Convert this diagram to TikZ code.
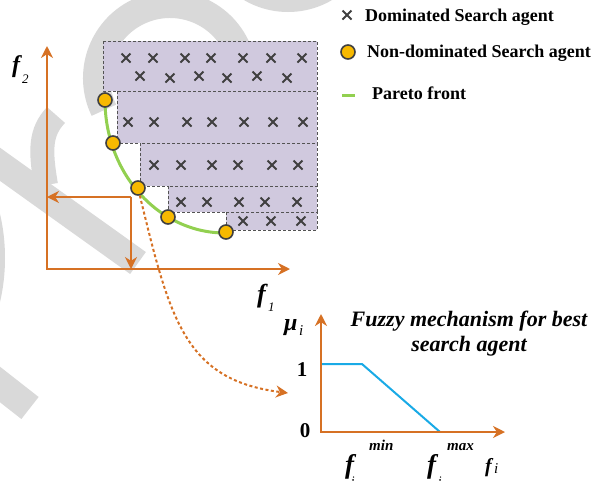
\documentclass[tikz,border=0pt]{standalone}
\usepackage{fontspec}
\setmainfont{Liberation Serif}
\usepackage{tikz}
\usetikzlibrary{arrows.meta, positioning, calc}
\definecolor{rust}{RGB}{214,113,36}
\definecolor{lilac}{RGB}{208,201,222}
\definecolor{amber}{RGB}{247,185,0}
\definecolor{leaf}{RGB}{146,208,80}
\definecolor{sky}{RGB}{25,170,230}
\definecolor{charcoal}{RGB}{64,64,64}
\definecolor{wmgray}{RGB}{217,217,217}

\begin{document}
\begin{tikzpicture}[x=1pt, y=-1pt,
  axis/.style={rust, line width=2pt},
  tip/.style={-{Stealth[length=12pt, width=12pt]}},
  region/.style={fill=lilac, draw=charcoal!90, line width=0.9pt, dash pattern=on 3pt off 2pt},
  agent/.style={circle, fill=amber, draw=charcoal, line width=1.6pt, minimum size=14pt, inner sep=0pt},
  xmk/.style={charcoal, line width=1.8pt},
  front/.style={leaf, line width=3pt},
  wm/.style={wmgray, line width=27pt},
  lbl/.style={font=\bfseries\fontsize{18}{21}\selectfont, anchor=base west, inner sep=0pt},
  bigf/.style={font=\bfseries\itshape\fontsize{27}{27}\selectfont, anchor=base west, inner sep=0pt},
  small/.style={font=\bfseries\itshape\fontsize{15}{15}\selectfont, anchor=base west, inner sep=0pt},
  sub/.style={font=\itshape\fontsize{13}{13}\selectfont, anchor=base west, inner sep=0pt}]
  \useasboundingbox (0,0) rectangle (606,480);
  % watermark
  \fill[wmgray] (288,-75) circle[radius=87];
  \draw[wm] (170,78) ++(154:73.5) arc[start angle=154, end angle=370, radius=73.5];
  \draw[wm] (-20,150) -- (138,263);
  \draw[wmgray, line width=24pt] (46,185) .. controls (40,150) and (40,132) .. (56,115);
  \draw[wmgray, line width=28pt] (-30,361) -- (30,408);
  \fill[wmgray] (-80,258) ellipse[x radius=85, y radius=130];
  % dominated regions
  \foreach \l/\t/\b in {103/41/91, 117/91/143, 140/143/186, 168/186/212, 226/212/230}
    \draw[region] (\l,\t) rectangle (317,\b);
  % dominated agents
  \foreach \x/\y in {126/58, 153/58, 185/58, 211/58, 243/58, 271/58, 302/58,
                     140/76, 170/78, 199/76, 227/78, 257/76, 287/78,
                     128/122, 154/122, 187/122, 212/122, 244/122, 273/122, 303/122,
                     154/165, 181/165, 212/165, 238/165, 272/165, 298/165,
                     181/202, 207/202, 239/202, 265/202, 297/202,
                     243/221, 271/221, 301/221}
    \draw[xmk] (\x-4.5,\y-4.5) -- (\x+4.5,\y+4.5) (\x-4.5,\y+4.5) -- (\x+4.5,\y-4.5);
  % axes
  \coordinate (O) at (47,269);
  \coordinate (ytip) at (47,46);
  \coordinate (xtip) at (290,269);
  \draw[axis, {Stealth[length=12pt, width=12pt]}-{Stealth[length=12pt, width=12pt]}] (ytip) -- (O) -- (xtip);
  \node[bigf, font=\bfseries\itshape\fontsize{24}{24}\selectfont] (lf2) at (12,72) {f};
  \node[sub] (lf2s) at (22,83) {2};
  \node[bigf, font=\bfseries\itshape\fontsize{26}{26}\selectfont] (lf1) at (257,302) {f};
  \node[sub] (lf1s) at (268,311) {1};
  % projection of one agent
  \coordinate (pr) at (131,197);
  \draw[axis, tip] (pr) -- (pr -| O);
  \draw[axis, tip] (pr) -- (pr |- O);
  % Pareto front
  \draw[front] (105,100) arc[start angle=180, end angle=90, x radius=120, y radius=133];
  \node[agent] (p1) at (105,100) {};
  \node[agent] (p2) at (113,143) {};
  \node[agent] (p3) at (138,188) {};
  \node[agent] (p4) at (168,217) {};
  \node[agent] (p5) at (226,232) {};
  % link to fuzzy part
  \coordinate (fz) at (288,393);
  \draw[axis, tip, dash pattern=on 3pt off 2.5pt] (p3) .. controls (170,320) and (185,380) .. (fz);
  % legend
  \draw[xmk] (342.5,10.5) -- (351.5,19.5) (342.5,19.5) -- (351.5,10.5);
  \node[lbl] (ldom) at (365,21) {Dominated Search agent};
  \node[agent] (lag) at (348,52) {};
  \node[lbl] (lnon) at (367,57) {Non-dominated Search agent};
  \draw[front] (342,95) -- (355,95);
  \node[lbl] (lpar) at (372,99) {Pareto front};
  % fuzzy mechanism
  \coordinate (F0) at (321,432);
  \coordinate (mutip) at (321,314);
  \coordinate (fitip) at (505,432);
  \draw[sky, line width=2pt] (321,364) -- (362,364) -- (440,432);
  \draw[axis, {Stealth[length=12pt, width=12pt]}-{Stealth[length=12pt, width=12pt]}] (mutip) -- (F0) -- (fitip);
  \node[font=\bfseries\itshape\fontsize{22}{25}\selectfont, align=center] (title) at (469,334) {Fuzzy mechanism for best\\search agent};
  \node[bigf, font=\bfseries\itshape\fontsize{24}{24}\selectfont] (lmu) at (284,330) {μ};
  \node[sub, font=\itshape\fontsize{15}{15}\selectfont] (lmus) at (299,335) {i};
  \node[font=\bfseries\fontsize{21}{21}\selectfont] (one) at (302,370) {1};
  \node[font=\bfseries\fontsize{21}{21}\selectfont] (zero) at (305,431) {0};
  \node[bigf] (fmin) at (345,473) {f};
  \node[small] (smin) at (369,450) {min};
  \node[sub] (imin) at (351,485) {i};
  \node[bigf] (fmax) at (427,473) {f};
  \node[small] (smax) at (447,450) {max};
  \node[sub] (imax) at (438,485) {i};
  \node[bigf, font=\bfseries\itshape\fontsize{20}{20}\selectfont] (lfi) at (485,472) {f};
  \node[sub, font=\itshape\fontsize{15}{15}\selectfont] (lfis) at (494,473) {i};
\end{tikzpicture}
\end{document}
